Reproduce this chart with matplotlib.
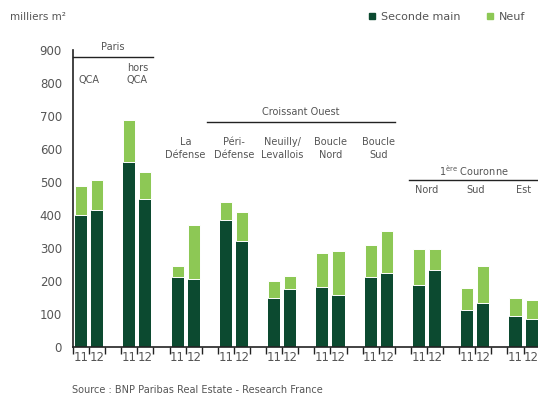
import numpy as np
from matplotlib import pyplot as plt
from matplotlib.lines import Line2D

plt.rcParams['font.family'] = ['Liberation Sans Narrow', 'DejaVu Sans']

# data (milliers m2), 2011 / 2012 per zone
zones = ['QCA', 'hors\nQCA', 'La\nDéfense', 'Péri-\nDéfense', 'Neuilly/\nLevallois',
         'Boucle\nNord', 'Boucle\nSud', 'Nord', 'Sud', 'Est']
years = ['11', '12']
seconde_11 = [400, 560, 212, 385, 148, 182, 212, 188, 112, 94]
seconde_12 = [415, 450, 206, 321, 176, 158, 224, 233, 133, 85]
total_11 = [488, 688, 245, 440, 200, 285, 309, 297, 179, 148]
total_12 = [506, 530, 370, 409, 215, 291, 352, 297, 245, 142]
neuf_11 = [t - s for t, s in zip(total_11, seconde_11)]
neuf_12 = [t - s for t, s in zip(total_12, seconde_12)]

dark = '#0c4a30'
light = '#8dc855'
grey = '#555555'

fig = plt.figure(figsize=(5.38, 3.99), dpi=100)
ax = fig.add_axes([73/538, 1-347/399, (538-73)/538, (347-50)/399])

n = len(zones)
x11 = np.arange(n)*3 + 0.5
x12 = np.arange(n)*3 + 1.5
w = 0.75
ax.bar(x11, seconde_11, w, color=dark)
ax.bar(x12, seconde_12, w, color=dark)
ax.bar(x11, neuf_11, w, bottom=seconde_11, color=light, edgecolor='white', linewidth=0.7)
ax.bar(x12, neuf_12, w, bottom=seconde_12, color=light, edgecolor='white', linewidth=0.7)

ax.set_xlim(0, 28.9)
ax.set_ylim(0, 900)
for s in ['top', 'right']:
    ax.spines[s].set_visible(False)
ax.spines['left'].set_color('#222222')
ax.spines['bottom'].set_color('#222222')
ax.spines['left'].set_linewidth(1.2)
ax.spines['bottom'].set_linewidth(1.2)

ax.set_yticks(range(0, 901, 100))
ax.tick_params(axis='y', length=0, pad=8, labelsize=8.5, labelcolor=grey)
ax.set_xticks(range(0, 29))
ax.set_xticklabels([])
ax.tick_params(axis='x', which='major', length=5, width=1, color='#222222', direction='out')
ax.set_xticks(np.sort(np.concatenate([x11, x12])), minor=True)
ax.set_xticklabels(years*n, minor=True)
ax.tick_params(axis='x', which='minor', length=0, pad=3, labelsize=8.5, labelcolor=grey)

# group headers
fs = 7
def header(text, x0, x1, y_line, y_text):
    ax.plot([x0, x1], [y_line, y_line], color='#222222', lw=1, clip_on=False)
    ax.text((x0 + x1)/2, y_text, text, ha='center', va='center', fontsize=fs, color=grey)

header('Paris', 0, 4.95, 879, 909)
header('Croissant Ouest', 8.3, 20, 682, 712)
header('1$^{\\rm ère}$ Couronne', 20.9, 28.9, 506, 533)

centers = np.arange(n)*3 + 1
ybot = [794, 794, 567, 567, 567, 567, 567, 460, 460, 460]
for c, z, yb in zip(centers, zones, ybot):
    ax.text(c, yb, z, ha='center', va='bottom', fontsize=fs, color=grey, linespacing=1.3)

fig.text(10/538, 1-17/399, 'milliers m²', fontsize=7.5, color=grey, va='center')
fig.text(72/538, 1-390/399, 'Source : BNP Paribas Real Estate - Research France',
         fontsize=7, color=grey, va='center')

handles = [Line2D([], [], marker='s', ls='', color=dark, markersize=5),
           Line2D([], [], marker='s', ls='', color=light, markersize=5)]
fig.legend(handles, ['Seconde main', 'Neuf'], loc='center right', ncol=2,
           bbox_to_anchor=(0.995, 1-17/399), frameon=False, fontsize=8,
           labelcolor=grey, handletextpad=0.3, columnspacing=2.2, handlelength=1)

fig.savefig('out.png', dpi=100)
